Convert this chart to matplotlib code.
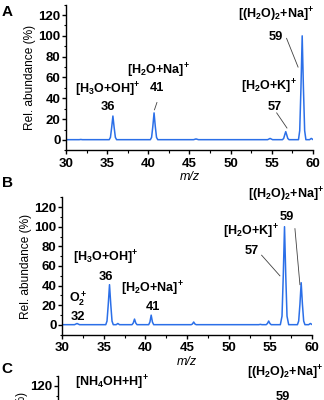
import matplotlib
matplotlib.use('Agg')
import matplotlib.pyplot as plt
from matplotlib.ticker import MultipleLocator

plt.rcParams['font.family'] = ['Liberation Sans', 'DejaVu Sans']
plt.rcParams['font.weight'] = 'bold'
plt.rcParams['mathtext.fontset'] = 'custom'
plt.rcParams['mathtext.rm'] = 'Liberation Sans:bold'
plt.rcParams['mathtext.it'] = 'Liberation Sans:italic:bold'
plt.rcParams['mathtext.default'] = 'rm'

# panel A spectrum (m/z, relative abundance %)
a_mz = [30.0, 31.6, 31.8, 32.0,
        35.25, 35.4, 35.55, 35.7, 35.85, 36.0, 36.15,
        40.25, 40.4, 40.55, 40.7, 40.85, 41.0, 41.15,
        45.5, 45.8, 46.1,
        54.5, 54.8, 55.1,
        56.3, 56.45, 56.6, 56.7, 56.8, 56.95, 57.1,
        58.25, 58.4, 58.55, 58.7, 58.85, 59.0, 59.15,
        59.6, 59.8, 60.0]
a_ab = [0.3, 0.3, 0.5, 0.3,
        0.3, 2.5, 12, 23, 12, 2.5, 0.3,
        0.3, 2.5, 13, 26, 13, 2.5, 0.3,
        0.3, 1.0, 0.3,
        0.3, 1.5, 0.3,
        0.3, 1.5, 5.5, 8, 5.5, 1.5, 0.3,
        0.3, 9, 50, 100, 50, 9, 0.3,
        0.3, 1.5, 0.5]

# panel B spectrum
b_mz = [30.0, 31.5, 31.8, 32.1,
        35.25, 35.4, 35.55, 35.7, 35.85, 36.0, 36.15,
        36.5, 36.7, 36.9,
        38.4, 38.55, 38.7, 38.85, 39.0,
        40.4, 40.55, 40.7, 40.85, 41.0,
        45.5, 45.65, 45.8, 45.95, 46.1,
        53.6, 53.8, 54.0,
        54.5, 54.65, 54.8, 54.95, 55.1,
        56.2, 56.4, 56.55, 56.7, 56.85, 57.0, 57.2,
        58.25, 58.4, 58.55, 58.7, 58.85, 59.0, 59.15,
        59.6, 59.8, 60.0]
b_ab = [0.3, 0.3, 1.5, 0.3,
        0.3, 4, 21, 41, 21, 4, 0.3,
        0.3, 1.5, 0.3,
        0.3, 2, 6, 2, 0.3,
        0.3, 3, 10, 3, 0.3,
        0.3, 1, 3, 1, 0.3,
        0.3, 0.6, 0.3,
        0.3, 1.5, 4, 1.5, 0.3,
        0.3, 9, 50, 100, 50, 9, 0.3,
        0.3, 4, 21, 43, 21, 4, 0.3,
        0.3, 1.5, 0.5]

# annotations: formula labels, nominal masses, leader lines
a_labels = [r'[H$_3$O+OH$]^{\!+}$', r'[H$_2$O+Na$]^{\!+}$', r'[H$_2$O+K$]^{\!+}$',
            r'[(H$_2$O)$_2$+Na$]^{\!+}$']
a_label_x = [35.1, 41.2, 54.7, 55.6]
a_label_y = [48, 66, 51, 120]
a_nums = ['36', '41', '57', '59']
a_num_x = [35.1, 41.1, 55.4, 55.5]
a_num_y = [32, 50, 32, 99]
a_lead_x = [[41.05, 40.75], [55.6, 56.85], [56.8, 58.2]]
a_lead_y = [[36, 29], [26, 11.5], [97.6, 70]]

b_labels = [r'O$_2^+$', r'[H$_3$O+OH$]^{\!+}$', r'[H$_2$O+Na$]^{\!+}$',
            r'[(H$_2$O)$_2$+Na$]^{\!+}$', r'[H$_2$O+K$]^{\!+}$']
b_label_x = [31.9, 35.3, 40.9, 56.9, 52.7]
b_label_y = [27, 68, 37, 132, 95]
b_nums = ['32', '36', '41', '59', '57']
b_num_x = [31.9, 35.3, 40.9, 57.0, 52.8]
b_num_y = [8, 49, 18, 110, 75]
b_lead_x = [[57.95, 58.55], [53.95, 56.15]]
b_lead_y = [[98, 41], [71, 50]]

c_labels = [r'[NH$_4$OH+H$]^{\!+}$', r'[(H$_2$O)$_2$+Na$]^{\!+}$']
c_label_x = [32.0, 56.8]
c_label_y = [123, 133]
c_nums = ['59']
c_num_x = [56.6]
c_num_y = [109]

line_col = '#2b6fe8'
lab_fs = 9
num_fs = 9.3


def style_axis(ax, xlab=True):
    ax.set_xlim(30, 60)
    ax.set_ylim(-10, 130)
    ax.xaxis.set_major_locator(MultipleLocator(5))
    ax.xaxis.set_minor_locator(MultipleLocator(2.5))
    ax.yaxis.set_minor_locator(MultipleLocator(10))
    ax.set_yticks([0, 20, 40, 60, 80, 100, 120])
    for s in ['top', 'right']:
        ax.spines[s].set_visible(False)
    for s in ['left', 'bottom']:
        ax.spines[s].set_linewidth(1.0)
    ax.tick_params(which='major', direction='out', length=3, width=1,
                   labelsize=9.5, pad=1.0)
    ax.tick_params(which='minor', direction='out', length=1.8, width=0.8)
    ax.tick_params(axis='x', pad=2.5, labelbottom=xlab)
    ax.set_ylabel('Rel. abundance (%)', fontsize=8.6, labelpad=2)
    if xlab:
        ax.set_xlabel('m/z', fontsize=9, style='italic', labelpad=1)


fig = plt.figure(figsize=(3.24, 4.0), dpi=100)

axA = fig.add_axes([0.2037, 0.624, 0.762, 0.3645])
axB = fig.add_axes([0.1914, 0.163, 0.7716, 0.344])
axC = fig.add_axes([0.179, -0.284, 0.784, 0.344])

style_axis(axA)
style_axis(axB)
style_axis(axC, xlab=False)

axA.plot(a_mz, a_ab, color=line_col, lw=1.1)
axB.plot(b_mz, b_ab, color=line_col, lw=1.1)

for t, x, y in zip(a_labels, a_label_x, a_label_y):
    axA.text(x, y, t, ha='center', va='center', fontsize=lab_fs)
for t, x, y in zip(a_nums, a_num_x, a_num_y):
    axA.text(x, y, t, ha='center', va='center', fontsize=num_fs)
for xs, ys in zip(a_lead_x, a_lead_y):
    axA.plot(xs, ys, color='#404040', lw=0.6)

for t, x, y in zip(b_labels, b_label_x, b_label_y):
    axB.text(x, y, t, ha='center', va='center', fontsize=lab_fs)
for t, x, y in zip(b_nums, b_num_x, b_num_y):
    axB.text(x, y, t, ha='center', va='center', fontsize=num_fs)
for xs, ys in zip(b_lead_x, b_lead_y):
    axB.plot(xs, ys, color='#404040', lw=0.6)

axC.text(c_label_x[0], c_label_y[0], c_labels[0], ha='left', va='center', fontsize=lab_fs)
axC.text(c_label_x[1], c_label_y[1], c_labels[1], ha='center', va='center', fontsize=lab_fs)
for t, x, y in zip(c_nums, c_num_x, c_num_y):
    axC.text(x, y, t, ha='center', va='center', fontsize=num_fs)

fig.text(0.005, 0.97, 'A', fontsize=11, ha='left', va='center')
fig.text(0.005, 0.543, 'B', fontsize=11, ha='left', va='center')
fig.text(0.005, 0.077, 'C', fontsize=11, ha='left', va='center')

fig.savefig('out.png', dpi=100)
